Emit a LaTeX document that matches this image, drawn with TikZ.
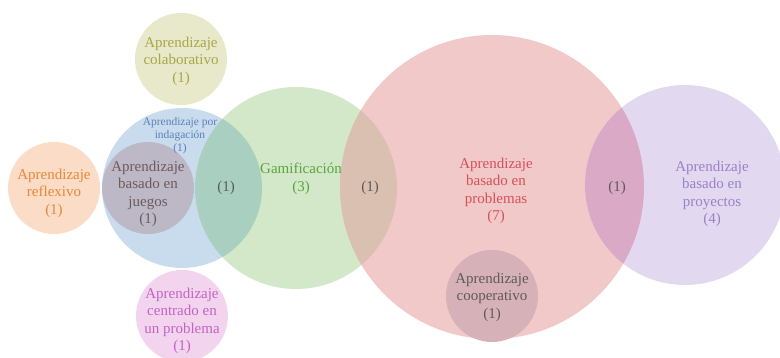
\documentclass[tikz,border=0pt]{standalone}
\usepackage{fontspec}
\setmainfont{Liberation Serif}
\definecolor{cYel}{HTML}{E8E8CA}
\definecolor{cBlue}{HTML}{C9DCEE}
\definecolor{cJue}{HTML}{BCB8C6}
\definecolor{cOra}{HTML}{FBDCC6}
\definecolor{cPink}{HTML}{F3D4EE}
\definecolor{cGreen}{HTML}{D2E8C9}
\definecolor{cBG}{HTML}{A9CFC1}
\definecolor{cRed}{HTML}{F1C9C9}
\definecolor{cGR}{HTML}{D9C0B1}
\definecolor{cPur}{HTML}{E2D9F0}
\definecolor{cRP}{HTML}{D9A9C6}
\definecolor{cCoop}{HTML}{D6B2B8}
\definecolor{tYel}{HTML}{A9A648}
\definecolor{tBlue}{HTML}{5C80B8}
\definecolor{tJue}{HTML}{6E5A5C}
\definecolor{tOra}{HTML}{E8873A}
\definecolor{tPink}{HTML}{C462C4}
\definecolor{tGreen}{HTML}{5AA53C}
\definecolor{tRed}{HTML}{D6505A}
\definecolor{tPur}{HTML}{9A80C8}
\definecolor{tGray}{HTML}{5E5A58}
\tikzset{
  lbl/.style={align=center, inner sep=0pt, font=\fontsize{15}{17.5}\selectfont},
  small/.style={align=center, inner sep=0pt, font=\fontsize{11.5}{13}\selectfont}
}
\begin{document}
\begin{tikzpicture}[x=1pt,y=-1pt]
\useasboundingbox (0,0) rectangle (780,358);
\begin{scope}
\clip (0,0) rectangle (780,358);
% coordinates of circle centres
\coordinate (Yc) at (181,59);
\coordinate (Bc) at (182,188);
\coordinate (Jc) at (148,188);
\coordinate (Oc) at (54,188);
\coordinate (Pc) at (182,316);
\coordinate (Gc) at (296,188);
\coordinate (Rc) at (492,187);
\coordinate (Uc) at (685,185);
\coordinate (Cc) at (492,296);
% base fills
\fill[cYel] (Yc) circle (46);
\fill[cOra] (Oc) circle (46);
\fill[cPink] (Pc) circle (46);
\fill[cBlue] (Bc) circle (80);
\fill[cJue] (Jc) circle (46);
\fill[cGreen] (Gc) circle (101);
\fill[cRed] (Rc) circle (152);
\fill[cPur] (Uc) circle (100);
% overlaps
\begin{scope}
  \clip (Bc) circle (80);
  \fill[cBG] (Gc) circle (101);
\end{scope}
\begin{scope}
  \clip (Gc) circle (101);
  \fill[cGR] (Rc) circle (152);
\end{scope}
\begin{scope}
  \clip (Rc) circle (152);
  \fill[cRP] (Uc) circle (100);
\end{scope}
\fill[cCoop] (Cc) circle (46);
\end{scope}
% labels
\node[lbl, text=tYel] (colab) at (181,61) {Aprendizaje\\colaborativo\\(1)};
\node[small, text=tBlue] (indag) at (180,136) {Aprendizaje por\\indagación\\(1)};
\node[lbl, text=tJue] (jueg) at (148,194) {Aprendizaje\\basado en\\juegos\\(1)};
\node[lbl, text=tOra] (refl) at (54,193) {Aprendizaje\\reflexivo\\(1)};
\node[lbl, text=tPink] (centr) at (182,321) {Aprendizaje\\centrado en\\un problema\\(1)};
\node[lbl, text=tGray] (bg) at (226,188) {(1)};
\node[lbl, text=tGreen] (gam) at (301,179) {Gamificación\\(3)};
\node[lbl, text=tGray] (gr) at (370,188) {(1)};
\node[lbl, text=tRed] (prob) at (496,191) {Aprendizaje\\basado en\\problemas\\(7)};
\node[lbl, text=tGray] (coop) at (492,297) {Aprendizaje\\cooperativo\\(1)};
\node[lbl, text=tGray] (rp) at (617,188) {(1)};
\node[lbl, text=tPur] (proy) at (712,194) {Aprendizaje\\basado en\\proyectos\\(4)};
\end{tikzpicture}
\end{document}
